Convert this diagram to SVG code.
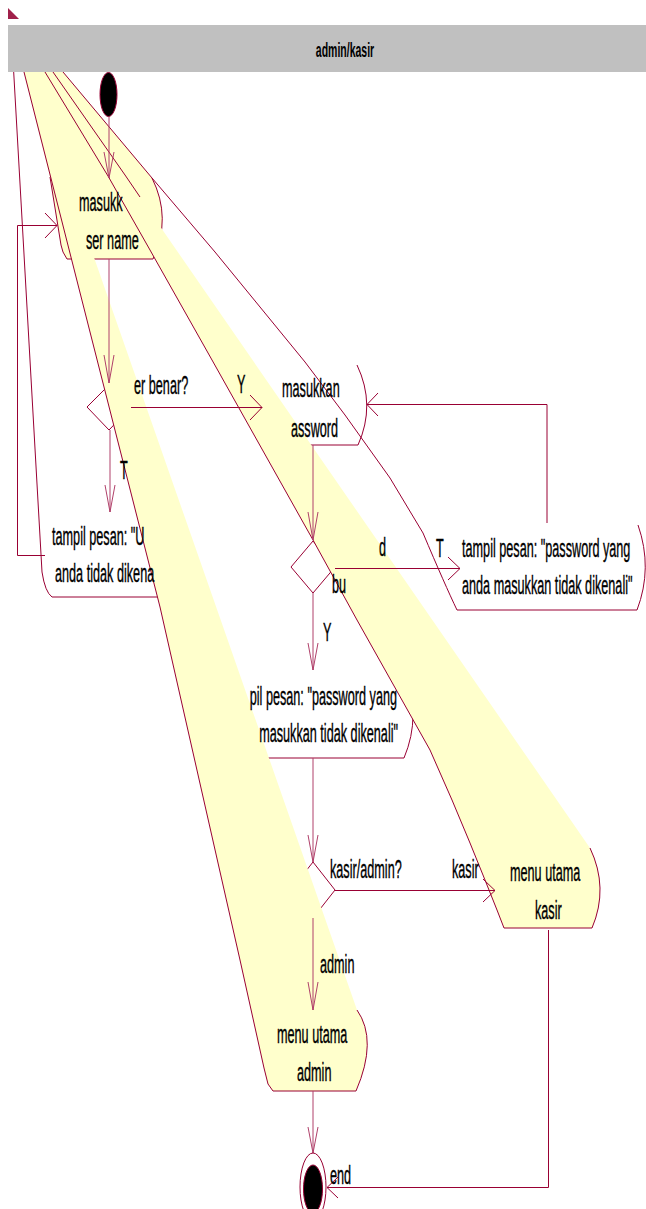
<svg xmlns="http://www.w3.org/2000/svg" width="646" height="1209" viewBox="0 0 646 1209">
<style>
.ln{fill:none;stroke:#990033;stroke-width:1}
.pk{fill:none;stroke:#b0406a;stroke-width:1}
.yl{fill:#ffffcc;stroke:none}
.t{font-family:"Liberation Sans",Arial,sans-serif;font-size:26px;fill:#000;stroke:#000;stroke-width:0.4}
.h{font-family:"Liberation Sans",Arial,sans-serif;font-size:21px;font-weight:bold;fill:#000}
</style>
<rect x="0" y="0" width="646" height="1209" fill="#ffffff"/>

<!-- plain (white) activity states and decisions -->
<g id="tampil-user">
  <path class="ln" d="M13,60 L42,572 Q45,592 52,597 L158,597"/>
</g>
<g id="masukkan-password">
  <path class="ln" d="M357,365 Q376,405 358,445 L310,445"/>
</g>
<g id="tampil-password">
  <path class="ln" d="M638,525 Q653,568 637,610 L457,610"/>
</g>
<g id="tampil-password-2">
  <path class="ln" d="M404,672 Q422,715 404,758 L268,758"/>
</g>
<g id="user-benar">
  <polygon class="ln" points="87,407 109,385 131,407 109,430"/>
</g>
<g id="password-benar">
  <polygon class="ln" points="291,567 313,541 335,567 313,593"/>
</g>
<g id="kasir-admin">
  <polygon class="ln" points="291,890 313,862 335,890 313,918"/>
</g>

<!-- yellow activity states -->
<g id="masukkan-user-name">
  <path fill="#ffffcc" stroke="none" d="M21,60 L63,60 L63,72 L152,178 Q172,218 153,259 L67,259 Q62,252 61,245 L50,177 L24,72 Z"/>
  <path class="ln" d="M152,178 Q172,218 153,259 L67,259 Q62,252 61,245 L50,177"/>
</g>
<g id="menu-utama-admin">
  <path class="yl" d="M21,60 L25,60 L357,1010 Q378,1040 356,1091 L273,1091 L268,1084 L264,1068 L240,960 L160,607 L90,332 L24,72 Z"/>
  <path class="ln" d="M357,1010 Q378,1040 356,1091 L273,1091 L268,1084 L264,1068 L240,960 L160,607 L90,332 L24,72 L21,60"/>
</g>
<g id="menu-utama-kasir">
  <path class="yl" d="M40,60 L45,60 L590,848 Q609,888 592,928 L504,928 L497,910 L485,880 L470,843 L452,800 L430,750 L357,620 L313,540 L212,360 L150,250 L108,176 L45,72 Z"/>
  <path class="ln" d="M590,848 Q609,888 592,928 L504,928 L497,910 L485,880 L470,843 L452,800 L430,750 L357,620 L313,540 L212,360 L150,250 L108,176 L45,72 L40,60"/>
</g>
<g id="edge-lines">
  <path class="ln" d="M60,60 L63,72 L152,178 L215,252 L305,362 L345,415 L390,478 L423,533 Q445,585 457,610"/>
  <path class="ln" d="M45,60 L53,72 L125,175 L140,197"/>
</g>

<!-- transitions -->
<g id="connectors">
  <path class="pk" d="M109,117 L109,178 M104,152 L109,178 L114,152"/>
  <path class="pk" d="M109,259 L109,383 M104,355 L109,383 L114,355"/>
  <path class="pk" d="M110,430 L110,512 M105,485 L110,512 L115,485"/>
  <path class="ln" d="M131,407.5 L262,407.5 M250,395 L262,407.5 L250,420"/>
  <path class="ln" d="M45,555.5 L17.5,555.5 L17.5,225.5 L57,225.5 M45,213 L57,225.5 L45,238"/>
  <path class="pk" d="M313,445 L313,540 M308,512 L313,540 L318,512"/>
  <path class="ln" d="M335,568.5 L460,568.5 M448,557 L460,568.5 L448,580"/>
  <path class="ln" d="M547,523 L547,404.5 L367,404.5 M378,393 L367,404.5 L378,416"/>
  <path class="pk" d="M313,593 L313,670 M308,643 L313,670 L318,643"/>
  <path class="pk" d="M313,758 L313,862 M308,835 L313,862 L318,835"/>
  <path class="ln" d="M335,890.5 L495,890.5 M483,879 L495,890.5 L483,902"/>
  <path class="pk" d="M313,918 L313,1010 M308,982 L313,1010 L318,982"/>
  <path class="pk" d="M313,1091 L313,1153 M308,1127 L313,1153 L318,1127"/>
  <path class="ln" d="M548.5,930 L548.5,1187.5 L327,1187.5 M338,1177 L327,1187.5 L338,1198"/>
  <text class="t" transform="translate(237,393) scale(0.487,1)">Y</text>
  <text class="t" transform="translate(120,479) scale(0.487,1)">T</text>
  <text class="t" transform="translate(436,557) scale(0.487,1)">T</text>
  <text class="t" transform="translate(323,641) scale(0.487,1)">Y</text>
  <text class="t" transform="translate(452,878) scale(0.487,1)">kasir</text>
  <text class="t" transform="translate(320,973) scale(0.487,1)">admin</text>
</g>

<!-- state names -->
<g id="labels">
  <text class="t" transform="translate(79,211) scale(0.487,1)">masukk</text>
  <text class="t" transform="translate(86,249) scale(0.487,1)">ser name</text>
  <text class="t" transform="translate(134,394) scale(0.487,1)">er benar?</text>
  <text class="t" transform="translate(282,397) scale(0.487,1)">masukkan</text>
  <text class="t" transform="translate(291,437) scale(0.487,1)">assword</text>
  <text class="t" transform="translate(52,545) scale(0.487,1)">tampil pesan: "U</text>
  <text class="t" transform="translate(55,582) scale(0.487,1)">anda tidak dikena</text>
  <text class="t" transform="translate(379,556) scale(0.487,1)">d</text>
  <text class="t" transform="translate(332,593) scale(0.487,1)">bu</text>
  <text class="t" transform="translate(462,557) scale(0.487,1)">tampil pesan: "password yang</text>
  <text class="t" transform="translate(462,594) scale(0.487,1)">anda masukkan tidak dikenali"</text>
  <text class="t" text-anchor="end" transform="translate(397,705) scale(0.487,1)">pil pesan: "password yang</text>
  <text class="t" text-anchor="end" transform="translate(398,742) scale(0.487,1)">masukkan tidak dikenali"</text>
  <text class="t" transform="translate(330,878) scale(0.487,1)">kasir/admin?</text>
  <text class="t" transform="translate(510,881) scale(0.487,1)">menu utama</text>
  <text class="t" transform="translate(535,919) scale(0.487,1)">kasir</text>
  <text class="t" transform="translate(277,1043) scale(0.487,1)">menu utama</text>
  <text class="t" transform="translate(297,1081) scale(0.487,1)">admin</text>
</g>

<g id="start">
  <ellipse cx="108.5" cy="94.5" rx="8.5" ry="22" fill="#000" stroke="#990033"/>
</g>
<g id="end">
  <ellipse cx="313" cy="1187" rx="13" ry="34" fill="#fff" stroke="#990033"/>
  <ellipse cx="313" cy="1189" rx="9.5" ry="24" fill="#000" stroke="#990033"/>
  <text class="t" transform="translate(330,1184) scale(0.487,1)">end</text>
</g>

<!-- swimlane header -->
<g id="swimlane">
  <rect x="8" y="25" width="638" height="47" fill="#c0c0c0"/>
  <text class="h" text-anchor="middle" transform="translate(345,57) scale(0.5,1)">admin/kasir</text>
  <polygon points="8,8 8,19 19,19" fill="#a0204a"/>
</g>
</svg>
